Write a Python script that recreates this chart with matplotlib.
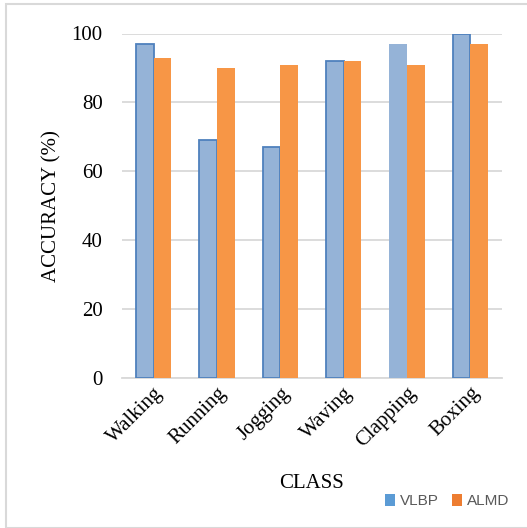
import matplotlib
matplotlib.use("Agg")
import matplotlib.pyplot as plt
import numpy as np
from matplotlib.patches import Rectangle, Patch

classes = ["Walking", "Running", "Jogging", "Waving", "Clapping", "Boxing"]
vlbp = [97, 69, 67, 92, 97, 100]
almd = [93, 90, 91, 92, 91, 97]
yticks = [0, 20, 40, 60, 80, 100]

plt.rcParams["font.family"] = ["Liberation Serif", "DejaVu Serif"]

fig = plt.figure(figsize=(5.27, 5.28), dpi=100)
ax = fig.add_axes([122 / 527, 1 - 378 / 528, (502 - 122) / 527, (378 - 33.5) / 528])

x = np.arange(len(classes))
w = 0.28
# the Clapping bar of VLBP is drawn without its darker outline
vlbp_edges = ["#4F81BD", "#4F81BD", "#4F81BD", "#4F81BD", "none", "#4F81BD"]
ax.bar(x - w / 2, vlbp, width=w, color="#95B3D7", edgecolor=vlbp_edges, linewidth=1.3, zorder=3)
ax.bar(x + w / 2, almd, width=w, color="#F79646", edgecolor="none", zorder=4)

ax.set_xlim(-0.5, len(classes) - 0.5)
ax.set_ylim(0, 100)
ax.set_yticks(yticks)
ax.set_yticklabels([str(v) for v in yticks], fontsize=15)
ax.yaxis.grid(True, color="#D9D9D9", linewidth=1.3, zorder=0)
ax.set_axisbelow(True)
ax.tick_params(axis="y", length=0, pad=14)
ax.tick_params(axis="x", length=0, pad=4)
for s in ["top", "right", "left"]:
    ax.spines[s].set_visible(False)
ax.spines["bottom"].set_color("#D9D9D9")
ax.spines["bottom"].set_linewidth(1.3)

ax.set_xticks(x)
ax.set_xticklabels(classes, rotation=45, ha="right", rotation_mode="anchor", fontsize=15)

ax.set_ylabel("ACCURACY (%)", fontsize=15, labelpad=7)
fig.text(312 / 527, 1 - 484 / 528, "CLASS", ha="center", va="center", fontsize=15)

handles = [Patch(facecolor="#5B9BD5", edgecolor="none"),
           Patch(facecolor="#ED7D31", edgecolor="none")]
leg = fig.legend(handles, ["VLBP", "ALMD"], loc="center", bbox_to_anchor=(447 / 527, 1 - 501 / 528),
                 ncol=2, frameon=False, handlelength=0.65, handleheight=0.85, handletextpad=0.35,
                 columnspacing=0.85, borderpad=0, prop={"family": "Liberation Sans", "size": 11})
for t in leg.get_texts():
    t.set_color("#595959")

fig.patches.append(Rectangle((6 / 527, 0.5 / 528), 1.0, 1 - 4.5 / 528, transform=fig.transFigure,
                             fill=False, edgecolor="#D9D9D9", linewidth=1.5))

fig.savefig("out.png", dpi=100)
